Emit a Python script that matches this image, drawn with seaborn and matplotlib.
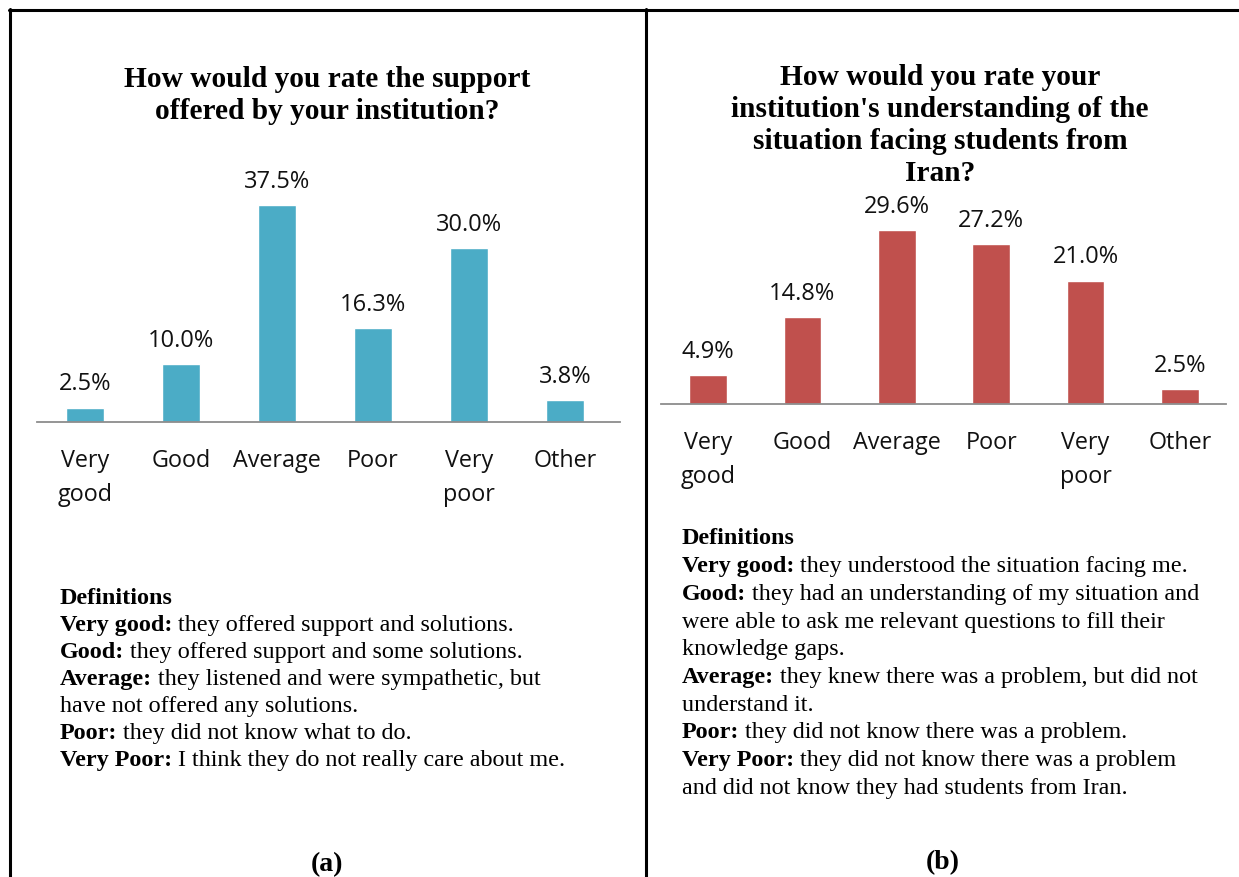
import matplotlib
matplotlib.use("Agg")
import matplotlib.pyplot as plt
from matplotlib.lines import Line2D
from matplotlib.text import Annotation
import seaborn as sns
import pandas as pd

# ---- data -------------------------------------------------------------
categories = ["Very good", "Good", "Average", "Poor", "Very poor", "Other"]
tick_labels = ["Very\ngood", "Good", "Average", "Poor", "Very\npoor", "Other"]
support_pct = [2.5, 10.0, 37.5, 16.3, 30.0, 3.8]
understanding_pct = [4.9, 14.8, 29.6, 27.2, 21.0, 2.5]

title_a = "How would you rate the support\noffered by your institution?"
title_b = ("How would you rate your\ninstitution's understanding of the\n"
           "situation facing students from\nIran?")

defs_a = [
    ("Definitions", ""),
    ("Very good:", " they offered support and solutions."),
    ("Good:", " they offered support and some solutions."),
    ("Average:", " they listened and were sympathetic, but"),
    ("", "have not offered any solutions."),
    ("Poor:", " they did not know what to do."),
    ("Very Poor:", " I think they do not really care about me."),
]
defs_b = [
    ("Definitions", ""),
    ("Very good:", " they understood the situation facing me."),
    ("Good:", " they had an understanding of my situation and"),
    ("", "were able to ask me relevant questions to fill their"),
    ("", "knowledge gaps."),
    ("Average:", " they knew there was a problem, but did not"),
    ("", "understand it."),
    ("Poor:", " they did not know there was a problem."),
    ("Very Poor:", " they did not know there was a problem"),
    ("", "and did not know they had students from Iran."),
]

# ---- style ------------------------------------------------------------
sns.set_theme(style="white")
plt.rcParams["font.family"] = ["Open Sans", "DejaVu Sans"]
plt.rcParams["text.color"] = "black"

W, H = 1239, 878
fig = plt.figure(figsize=(W / 100, H / 100), dpi=100)
fig.patch.set_facecolor("white")

SERIF = ["Liberation Serif", "DejaVu Serif"]
SANS = ["Open Sans", "DejaVu Sans"]


def fx(px):
    return px / W


def fy(py):
    return 1 - py / H


def bar_panel(values, color, x0, x1, ybase, ytop, xmax, ymax):
    ax = fig.add_axes([fx(x0), fy(ybase), (x1 - x0) / W, (ybase - ytop) / H])
    df = pd.DataFrame({"category": categories, "pct": values})
    sns.barplot(data=df, x="category", y="pct", order=categories,
                color=color, saturation=1, width=0.4, ax=ax)
    ax.set_xlim(-0.5, xmax)
    ax.set_ylim(0, ymax)
    for patch, v in zip(ax.patches, values):
        cx = patch.get_x() + patch.get_width() / 2
        ax.annotate(f"{v:.1f}%", xy=(cx, v), xytext=(0, 17.3),
                    textcoords="offset points", ha="center", va="center",
                    fontsize=17, family=SANS, color="#111111")
    ax.set_xticks(range(len(categories)))
    ax.set_xticklabels(tick_labels, fontsize=16.8, family=SANS,
                       color="#111111")
    for lab in ax.get_xticklabels():
        lab.set_linespacing(1.6)
    ax.tick_params(axis="x", length=0, pad=18.5)
    ax.set_yticks([])
    ax.set_xlabel("")
    ax.set_ylabel("")
    for side in ("top", "left", "right"):
        ax.spines[side].set_visible(False)
    ax.spines["bottom"].set_color("#8c8c8c")
    ax.spines["bottom"].set_linewidth(1.3)
    ax.patch.set_alpha(0)
    return ax


bar_panel(support_pct, "#4BACC6", 37, 37 + 6.07 * 96, 423, 150, 5.57,
          (423 - 150) / 5.79)
bar_panel(understanding_pct, "#C0504D", 660.8, 660.8 + 5.99 * 94.4, 405, 150,
          5.49, (405 - 150) / 5.88)

# ---- titles -------------------------------------------------------------
fig.text(fx(327), fy(95.5), title_a, ha="center", va="center",
         fontsize=21.2, fontweight="bold", family=SERIF, linespacing=1.2)
fig.text(fx(940), fy(125.5), title_b, ha="center", va="center",
         fontsize=21.2, fontweight="bold", family=SERIF, linespacing=1.25)


# ---- definitions ------------------------------------------------------------
DEF_SIZE = 17.4


def definitions(entries, x, y0, step):
    for i, (bold, rest) in enumerate(entries):
        y = fy(y0 + i * step)
        if bold:
            tb = fig.text(fx(x), y, bold, ha="left", va="baseline",
                          fontsize=DEF_SIZE, fontweight="bold", family=SERIF)
            if rest:
                fig.add_artist(Annotation(rest, xy=(1, 0), xycoords=tb,
                                          ha="left", va="bottom",
                                          fontsize=DEF_SIZE, family=SERIF))
        else:
            fig.text(fx(x), y, rest, ha="left", va="baseline",
                     fontsize=DEF_SIZE, family=SERIF)


# baselines sit about 7 px below the visual line centres
definitions(defs_a, 60, 604, 27)
definitions(defs_b, 682, 544.5, 27.7)

fig.text(fx(327), fy(865), "(a)", ha="center", va="center", fontsize=20,
         fontweight="bold", family=SERIF)
fig.text(fx(943), fy(863), "(b)", ha="center", va="center", fontsize=20,
         fontweight="bold", family=SERIF)

# ---- panel frames -----------------------------------------------------------
frame = dict(transform=fig.transFigure, color="black", linewidth=2.2)
fig.add_artist(Line2D([fx(9), 1], [fy(10.5), fy(10.5)], **frame))
fig.add_artist(Line2D([fx(10), fx(10)], [fy(9.5), 0], **frame))
fig.add_artist(Line2D([fx(646), fx(646)], [fy(9.5), 0], **frame))

fig.savefig("out.png", dpi=100, facecolor="white")
